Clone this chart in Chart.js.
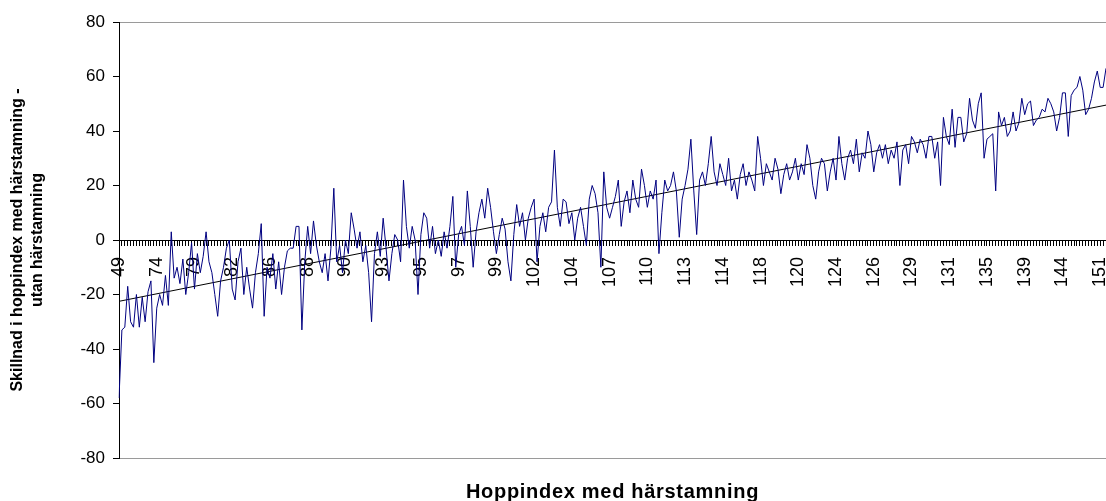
<!DOCTYPE html>
<html>
<head>
<meta charset="utf-8">
<script src="https://cdn.jsdelivr.net/npm/chart.js@4/dist/chart.umd.min.js"></script>
<style>
  html, body { margin: 0; padding: 0; background: #fff; }
  canvas { display: block; }
</style>
</head>
<body>
<canvas id="c" width="1106" height="501"></canvas>
<script>
// Difference in jump index (with pedigree - without pedigree), sorted by jump index with pedigree
const values = [
  -58, -33, -32, -17, -30, -32, -20, -32, -21, -30,
  -19, -15, -45, -25, -20, -24, -13, -24, 3, -14,
  -10, -16, -7, -20, -12, -1, -18, -5, -12, -6,
  3, -8, -12, -20, -28, -15, -10, -3, 0, -18,
  -22, -8, -3, -20, -10, -18, -25, -12, -5, 6,
  -28, -10, -14, -5, -18, -8, -20, -10, -4, -3,
  -3, 5, 5, -33, -8, 5, -5, 7, -2, -8,
  -12, -5, -15, -3, 19, -8, -2, -12, 0, -5,
  10, 4, -3, 3, -8, -2, -12, -30, -5, 3,
  -6, 8, -3, -15, -5, 2, 0, -8, 22, 5,
  -3, 5, 0, -20, 2, 10, 8, -3, 5, -5,
  0, -6, 3, -3, 5, 16, -10, 2, 5, -2,
  18, 5, -10, 3, 10, 15, 8, 19, 12, 3,
  -5, 2, 8, 4, -8, -15, 2, 13, 5, 10,
  0, 8, 12, 15, -8, 5, 10, 3, 12, 14,
  33, 12, 5, 15, 14, 6, 10, 0, 8, 12,
  5, -2, 15, 20, 17, 10, -10, 25, 12, 8,
  12, 16, 22, 5, 14, 18, 10, 22, 15, 12,
  26, 20, 12, 18, 15, 22, -5, 10, 22, 18,
  20, 25, 18, 1, 15, 20, 26, 37, 18, 2,
  22, 25, 20, 28, 38, 25, 20, 28, 24, 20,
  30, 18, 22, 15, 24, 28, 20, 25, 22, 18,
  38, 30, 20, 28, 25, 22, 30, 26, 17, 24,
  28, 22, 25, 30, 22, 28, 24, 35, 30, 20,
  15, 25, 30, 28, 18, 25, 30, 22, 38, 28,
  22, 30, 33, 28, 37, 25, 32, 30, 40, 35,
  25, 32, 35, 30, 35, 28, 33, 30, 36, 20,
  33, 35, 28, 38, 36, 32, 37, 35, 30, 38,
  38, 30, 36, 20, 45, 38, 35, 48, 34, 45,
  45, 36, 39, 52, 44, 41, 50, 54, 30, 37,
  38, 39, 18, 47, 42, 45, 38, 40, 47, 40,
  43, 52, 46, 50, 51, 42, 44, 45, 48, 47,
  52, 50, 47, 40, 45, 54, 54, 38, 53, 55,
  56, 60, 55, 46, 48, 52, 58, 62, 56, 56,
  63
];

// Category labels shown on the x axis (every labelStep-th category)
const tickLabels = ['49','74','79','82','86','88','90','93','95','97','99','102','104','107',
                    '110','113','114','118','120','124','126','129','131','135','139','144','151'];
const labelStep = 13;

// Linear trend line: value at first and last category
const trendEnds = [-22.5, 49.5];

const yTitle = ['Skillnad i hoppindex med härstamning -', 'utan härstamning'];
const xTitle = 'Hoppindex med härstamning';

const categories = values.map((_, i) => i);
const trendData = values.map((_, i) =>
  i === 0 ? trendEnds[0] : (i === values.length - 1 ? trendEnds[1] : null));

const FONT = '"Liberation Sans", Arial, sans-serif';

const xTitlePlugin = {
  id: 'xTitle',
  afterDraw(chart) {
    const ctx = chart.ctx;
    const a = chart.chartArea;
    ctx.save();
    ctx.font = 'bold 20px ' + FONT;
    try { ctx.letterSpacing = '0.7px'; } catch (e) {}
    ctx.fillStyle = '#000';
    ctx.textAlign = 'center';
    ctx.textBaseline = 'alphabetic';
    ctx.fillText(xTitle, (a.left + a.right) / 2, chart.height - 3.5);
    ctx.restore();
  }
};

new Chart(document.getElementById('c'), {
  type: 'line',
  data: {
    labels: categories,
    datasets: [
      { data: values, borderColor: '#000080', borderWidth: 1, pointRadius: 0, tension: 0, fill: false },
      { data: trendData, borderColor: '#000000', borderWidth: 1, pointRadius: 0, spanGaps: true, fill: false }
    ]
  },
  options: {
    responsive: false,
    animation: false,
    events: [],
    layout: { padding: { top: 22, right: 0, bottom: 43, left: 0 } },
    plugins: { legend: { display: false }, tooltip: { enabled: false }, title: { display: false } },
    scales: {
      x: {
        type: 'category',
        position: { y: 0 },
        offset: false,
        grid: { drawOnChartArea: false, drawTicks: true, tickLength: 5, tickColor: '#000', tickWidth: 1 },
        border: { display: true, color: '#000', width: 1 },
        ticks: {
          autoSkip: false, maxRotation: 90, minRotation: 90, padding: 12,
          color: '#000', font: { family: FONT, size: 18 },
          callback: (v, i) => (i % labelStep === 0 ? tickLabels[i / labelStep] : '')
        },
        afterFit: (s) => { s.paddingLeft = 0; s.paddingRight = 0; }
      },
      y: {
        min: -80, max: 80,
        ticks: { stepSize: 20, color: '#000', font: { family: FONT, size: 17 }, padding: 8 },
        grid: {
          drawOnChartArea: true, drawTicks: true, tickLength: 6, tickColor: '#000',
          color: (c) => (c.tick && Math.abs(c.tick.value) === 80 ? '#9a9a9a' : 'rgba(0,0,0,0)')
        },
        border: { display: true, color: '#000', width: 1 },
        title: {
          display: true, text: yTitle, color: '#000',
          font: { family: FONT, size: 16, weight: 'bold', lineHeight: 1.25 },
          padding: { top: 8, bottom: 0 }
        },
        afterFit: (s) => { s.width = 119; }
      }
    }
  },
  plugins: [xTitlePlugin]
});
</script>
</body>
</html>
